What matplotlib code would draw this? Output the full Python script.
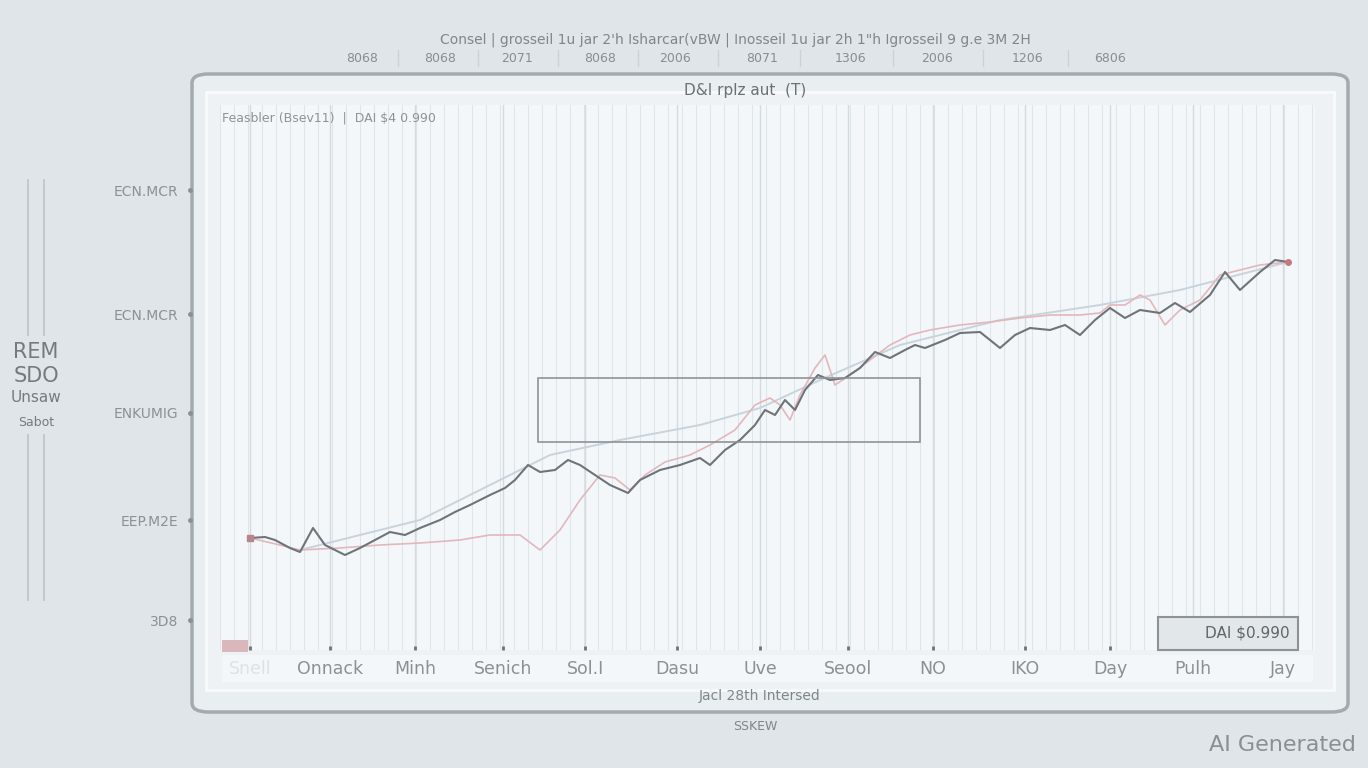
import matplotlib
matplotlib.use("Agg")
import matplotlib.pyplot as plt
from matplotlib.patches import FancyBboxPatch, Rectangle
import numpy as np

# ---------------- data ----------------
dark_x = [30, 45, 55, 70, 80, 93, 105, 125, 140, 155, 170, 185, 200, 220, 235, 250, 270, 285, 295,
          308, 320, 335, 348, 360, 375, 390, 408, 420, 440, 460, 480, 490, 505, 520, 535, 545, 555,
          565, 575, 585, 598, 610, 625, 640, 655, 670, 685, 695, 705, 725, 740, 760, 780, 795, 810,
          830, 845, 860, 875, 890, 905, 920, 940, 955, 970, 990, 1005, 1020, 1040, 1055, 1068]
dark_y = [112, 113, 110, 102, 98, 122, 105, 95, 102, 110, 118, 115, 122, 130, 138, 145, 155, 162,
          170, 185, 178, 180, 190, 185, 175, 165, 157, 170, 180, 185, 192, 185, 200, 210, 225, 240,
          235, 250, 240, 260, 275, 270, 272, 282, 298, 292, 300, 305, 302, 310, 317, 318, 302, 315,
          322, 320, 325, 315, 330, 342, 332, 340, 337, 347, 338, 355, 378, 360, 378, 390, 388]
pink_x = [30, 60, 80, 120, 160, 200, 240, 270, 300, 320, 340, 360, 380, 395, 410, 425, 445, 470,
          490, 515, 535, 550, 560, 570, 580, 595, 605, 615, 630, 650, 670, 690, 710, 740, 770, 800,
          830, 860, 880, 890, 905, 920, 930, 945, 960, 980, 1000, 1020, 1040, 1068]
pink_y = [112, 105, 100, 102, 105, 107, 110, 115, 115, 100, 120, 150, 175, 172, 160, 175, 188, 195,
          205, 220, 245, 252, 245, 230, 255, 282, 295, 265, 275, 290, 305, 315, 320, 325, 328, 332,
          335, 335, 337, 345, 345, 355, 350, 325, 340, 350, 375, 380, 385, 388]
trend_x = [80, 200, 260, 330, 400, 480, 540, 600, 680, 780, 880, 960, 1068]
trend_y = [100, 130, 160, 195, 210, 225, 242, 270, 305, 330, 345, 360, 388]

y_ticks = [30, 130, 237, 336, 460]
y_labels = ["3D8", "EEP.M2E", "ENKUMIG", "ECN.MCR", "ECN.MCR"]
x_ticks = [30, 110, 195, 283, 365, 457, 540, 628, 713, 805, 890, 973, 1063]
x_labels = ["Snell", "Onnack", "Minh", "Senich", "Sol.I", "Dasu", "Uve", "Seool", "NO", "IKO",
            "Day", "Pulh", "Jay"]
top_labels = ["8068", "8068", "2071", "8068", "2006", "8071", "1306", "2006", "1206", "6806"]

# ---------------- figure ----------------
fig = plt.figure(figsize=(13.68, 7.68), dpi=100)
fig.patch.set_facecolor("#dfe5e9")
W, H = 1368, 768

def fx(px):
    return px / W

def fy(py):
    return 1 - py / H

# outer rounded panel
panel = FancyBboxPatch((fx(192), fy(712)), fx(1348 - 192), (712 - 74) / H,
                       boxstyle="round,pad=0,rounding_size=0.012", transform=fig.transFigure,
                       facecolor="#e9eef1", edgecolor="#a3abb1", linewidth=2.5, zorder=-3)
fig.patches.append(panel)
inner = Rectangle((fx(206), fy(690)), fx(1334 - 206), (690 - 92) / H, transform=fig.transFigure,
                  facecolor="#eef2f5", edgecolor="#f8fafb", linewidth=2, zorder=-2)
fig.patches.append(inner)
# bottom band behind tick labels
fig.patches.append(Rectangle((fx(222), fy(682)), fx(1313 - 222), (682 - 655) / H,
                             transform=fig.transFigure, facecolor="#f4f7f9", edgecolor="none",
                             zorder=-1))

ax = fig.add_axes([fx(220), fy(650), fx(1315 - 220), (650 - 105) / H])
ax.set_zorder(2)
ax.set_facecolor("#f3f7f9")
ax.set_xlim(0, 1095)
ax.set_ylim(0, 545)

# dense vertical grid
for gx in np.arange(0, 1095, 14):
    ax.axvline(gx, color="#dfe5ea", linewidth=0.8, zorder=0)
for gx in x_ticks:
    ax.axvline(gx, color="#d3dae0", linewidth=1.0, zorder=0)

ax.plot(trend_x, trend_y, color="#c9d3dc", linewidth=1.4, zorder=2)
ax.plot(pink_x, pink_y, color="#e3b7bb", linewidth=1.2, zorder=3)
ax.plot(dark_x, dark_y, color="#6f7479", linewidth=1.5, zorder=4)
ax.plot([dark_x[0]], [dark_y[0]], "s", color="#b7868a", markersize=4, zorder=5)
ax.plot([dark_x[-1]], [dark_y[-1]], "o", color="#c07c80", markersize=4, zorder=5)

# central rectangle
ax.add_patch(Rectangle((318, 208), 382, 64, fill=False, edgecolor="#8e9398", linewidth=1.2, zorder=6))

for s in ax.spines.values():
    s.set_visible(False)

ax.set_yticks(y_ticks)
ax.set_yticklabels(y_labels)
ax.tick_params(axis="y", length=0, pad=30, labelsize=10, labelcolor="#8a9297")
ax.set_xticks(x_ticks)
ax.set_xticklabels(x_labels)
ax.tick_params(axis="x", direction="in", length=3, width=2, color="#6d7378", pad=7,
               labelsize=12.5, labelcolor="#8a9095")
ax.get_xticklabels()[0].set_color("#dde2e6")

# y tick marks on panel edge
for yt in y_ticks:
    ax.plot([-30], [yt], marker="o", color="#8a9196", markersize=2.5, clip_on=False, zorder=6)

# texts
fig.text(fx(745), fy(90), "D&I rplz aut  (T)", ha="center", va="center", fontsize=11,
         color="#6a7075")
fig.text(fx(222), fy(118), "Feasbler (Bsev11)  |  DAI $4 0.990", ha="left", va="center",
         fontsize=9, color="#8d9397")
fig.text(fx(735), fy(40), "Consel | grosseil 1u jar 2'h Isharcar(vBW | Inosseil 1u jar 2h 1\"h Igrosseil 9 g.e 3M 2H",
         ha="center", va="center", fontsize=10, color="#80878c")
top_x = [362, 440, 517, 600, 675, 762, 850, 937, 1027, 1110]
for tx, tl in zip(top_x, top_labels):
    fig.text(fx(tx), fy(58), tl, ha="center", va="center", fontsize=9, color="#878e93")
for sx in [398, 478, 558, 638, 718, 800, 893, 983, 1068]:
    fig.lines.append(plt.Line2D([fx(sx), fx(sx)], [fy(50), fy(66)], transform=fig.transFigure,
                                color="#ccd3d8", linewidth=1))

fig.text(fx(760), fy(696), "Jacl 28th Intersed", ha="center", va="center", fontsize=10,
         color="#7f868b")
fig.text(fx(755), fy(727), "SSKEW", ha="center", va="center", fontsize=9, color="#7f868b")

for txt, yy, fs in [("REM", 352, 15), ("SDO", 376, 15), ("Unsaw", 398, 11), ("Sabot", 423, 9)]:
    fig.text(fx(36), fy(yy), txt, ha="center", va="center", fontsize=fs, color="#737a80")
for lx in [28, 44]:
    fig.lines.append(plt.Line2D([fx(lx), fx(lx)], [fy(180), fy(335)], transform=fig.transFigure,
                                color="#bcc4ca", linewidth=1.2))
    fig.lines.append(plt.Line2D([fx(lx), fx(lx)], [fy(435), fy(600)], transform=fig.transFigure,
                                color="#bcc4ca", linewidth=1.2))

# bottom right box
box = Rectangle((fx(1158), fy(650)), fx(140), 33 / H, transform=fig.transFigure,
                facecolor="#e2e7ea", edgecolor="#8c9296", linewidth=1.5, zorder=5)
fig.patches.append(box)
fig.text(fx(1290), fy(633), "DAI $0.990", ha="right", va="center", fontsize=11, color="#5f666b",
         zorder=6)
fig.patches.append(Rectangle((fx(222), fy(652)), fx(26), 12 / H, transform=fig.transFigure,
                             facecolor="#d9b7ba", edgecolor="none", zorder=5))

fig.text(fx(1356), fy(745), "AI Generated", ha="right", va="center", fontsize=16,
         color="#8a8f93")

fig.savefig("out.png", dpi=100, facecolor=fig.get_facecolor())
